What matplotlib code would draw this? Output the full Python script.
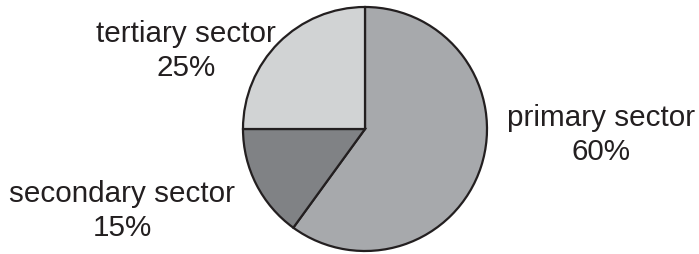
import matplotlib
matplotlib.use("Agg")
import matplotlib.pyplot as plt

sectors = ["primary sector", "secondary sector", "tertiary sector"]
shares = [60, 15, 25]
colors = ["#A7A9AC", "#808285", "#D1D3D4"]

W, H = 699, 255
fig = plt.figure(figsize=(W / 100, H / 100), dpi=100)
ax = fig.add_axes([0, 0, 1, 1])

ax.pie(shares, colors=colors, startangle=90, counterclock=False,
       center=(365, H - 130), radius=122, frame=True,
       wedgeprops=dict(edgecolor="#231F20", linewidth=1.6))
ax.set_xlim(0, W)
ax.set_ylim(0, H)
ax.set_aspect("equal")
ax.axis("off")

# label positions in pixels (x, y from top)
label_pos = [(601, 135), (122, 211), (186, 51)]
for name, val, (x, y) in zip(sectors, shares, label_pos):
    ax.text(x, H - y, f"{name}\n{val}%", ha="center", va="center",
            fontsize=21.3, family="Liberation Sans", color="#231F20",
            linespacing=1.25)

fig.savefig("out.png", dpi=100)
